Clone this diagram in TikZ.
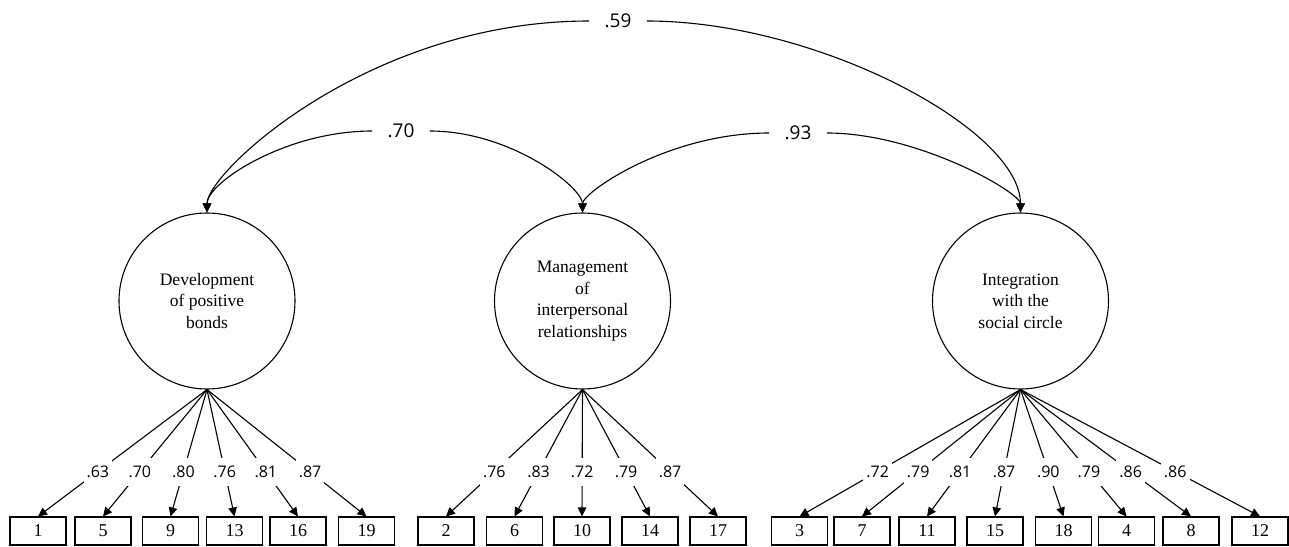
\documentclass[tikz,border=0pt]{standalone}
\usepackage{fontspec}
\setmainfont{Liberation Serif}
\newfontfamily\numfont{Open Sans}
\usetikzlibrary{arrows.meta}
\begin{document}
\begin{tikzpicture}[x=1pt,y=-1pt,line width=1.1pt,
  factor/.style={circle,draw,minimum size=176pt,inner sep=0pt,align=center,font=\fontsize{17.5}{21.7}\selectfont},
  item/.style={draw,minimum width=56pt,minimum height=28pt,inner sep=0pt,font=\fontsize{18}{20}\selectfont},
  load/.style={fill=white,inner xsep=3pt,inner ysep=0pt,minimum height=28pt,font=\numfont\fontsize{16}{18}\selectfont},
  corr/.style={inner xsep=15pt,inner ysep=2pt,font=\numfont\fontsize{19}{22}\selectfont},
  tip/.style={-{Triangle[length=9pt,width=8.5pt]}}
]
\useasboundingbox (0,0) rectangle (1289,546);

% factors
\node[factor] (f1) at (207,301) {Development\\of positive\\bonds};
\node[factor] (f2) at (582.5,301) {Management\\of\\interpersonal\\relationships};
\node[factor] (f3) at (1020.5,301) {Integration\\with the\\social circle};

% correlation labels
\node[corr] (c59) at (618,21) {.59};
\node[corr] (c70) at (401,131) {.70};
\node[corr] (c93) at (798,133) {.93};

% correlation arcs
\draw[tip] (c59) .. controls +(-250,0) and +(0,-40) .. (f1.north);
\draw[tip] (c59) .. controls +(200,0) and +(0,-83) .. (f3.north);
\draw[tip] (c70) .. controls +(-115,0) and +(0,-30) .. (f1.north);
\draw[tip] (c70) .. controls +(110,0) and +(0,-25) .. (f2.north);
\draw[tip] (c93) .. controls +(-130,0) and +(0,-20) .. (f2.north);
\draw[tip] (c93) .. controls +(120,0) and +(0,-20) .. (f3.north);

% items
\foreach \n/\x in {1/38,5/103,9/170.5,13/234.5,16/298,19/366.5,
                   2/446,6/514.5,10/582,14/650,17/718,
                   3/799.5,7/862,11/927,15/995,18/1063.5,4/1126.5,8/1191,12/1260}
  \node[item] (i\n) at (\x,531) {\n};

% loadings
\foreach \f/\n/\l in {f1/1/.63,f1/5/.70,f1/9/.80,f1/13/.76,f1/16/.81,f1/19/.87,
                      f2/2/.76,f2/6/.83,f2/10/.72,f2/14/.79,f2/17/.87,
                      f3/3/.72,f3/7/.79,f3/11/.81,f3/15/.87,f3/18/.90,f3/4/.79,f3/8/.86,f3/12/.86}
  \draw[tip] (\f.south) -- node[load,pos=0.646] {\l} (i\n.north);
\end{tikzpicture}
\end{document}
